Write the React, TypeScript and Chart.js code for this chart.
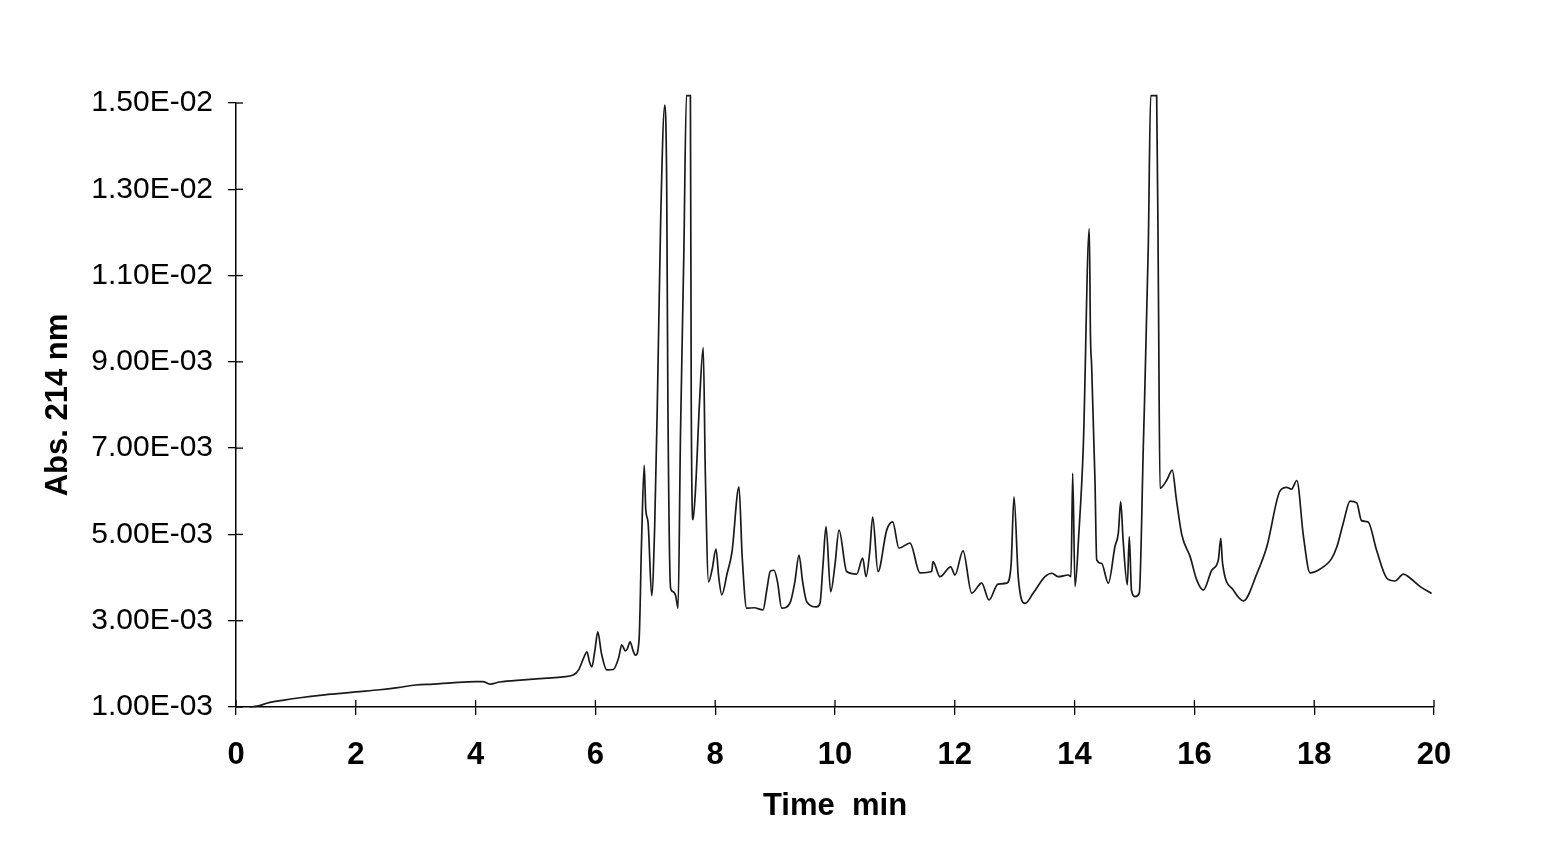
import React, { useEffect, useRef } from "react";
import { Chart, registerables } from "chart.js";

Chart.register(...registerables);

// Retention time (min)
const times: number[] = [
  0.23, 0.35, 0.55, 0.8, 1.1, 1.4, 1.7, 2.0, 2.4, 2.7, 3.0, 3.3, 3.6, 4.0, 4.12, 4.24, 4.4, 4.8, 5.2, 5.46,
  5.63, 5.72, 5.79, 5.86, 5.9, 5.94, 5.99, 6.04, 6.1, 6.19, 6.3, 6.39, 6.44, 6.5, 6.53, 6.58, 6.63, 6.67, 6.73, 6.77,
  6.815, 6.84, 6.88, 6.94, 6.99, 7.035, 7.09, 7.157, 7.19, 7.21, 7.256, 7.3, 7.34, 7.38, 7.42, 7.476, 7.52, 7.586, 7.6, 7.63,
  7.67, 7.74, 7.8, 7.835, 7.89, 7.95, 8.013, 8.06, 8.11, 8.2, 8.28, 8.397, 8.45, 8.526, 8.65, 8.798, 8.86, 8.92, 8.982, 9.04,
  9.11, 9.249, 9.33, 9.399, 9.46, 9.528, 9.694, 9.75, 9.8, 9.85, 9.928, 10.0, 10.067, 10.195, 10.362, 10.462, 10.518, 10.58, 10.629, 10.718,
  10.863, 10.963, 11.068, 11.252, 11.419, 11.614, 11.636, 11.753, 11.932, 12.003, 12.137, 12.282, 12.449, 12.571, 12.721, 12.866, 12.94, 12.988, 13.06, 13.172,
  13.31, 13.506, 13.62, 13.73, 13.895, 13.94, 13.968, 14.007, 14.07, 14.145, 14.245, 14.265, 14.285, 14.34, 14.369, 14.45, 14.563, 14.674, 14.73, 14.77,
  14.81, 14.88, 14.913, 14.95, 15.008, 15.08, 15.147, 15.23, 15.27, 15.37, 15.4, 15.426, 15.54, 15.63, 15.7, 15.79, 15.93, 16.04, 16.15, 16.29,
  16.4, 16.44, 16.47, 16.65, 16.82, 17.04, 17.21, 17.43, 17.54, 17.62, 17.71, 17.82, 17.93, 18.1, 18.29, 18.38, 18.49, 18.6, 18.71, 18.79,
  18.9, 19.04, 19.21, 19.35, 19.49, 19.6, 19.77, 19.96,
];

// Absorbance at 214 nm
const absorbance: number[] = [
  1.0e-3, 1.02e-3, 1.1e-3, 1.16e-3, 1.22e-3, 1.27e-3, 1.31e-3, 1.35e-3, 1.4e-3, 1.45e-3, 1.51e-3, 1.53e-3, 1.56e-3, 1.59e-3, 1.59e-3, 1.53e-3, 1.58e-3, 1.63e-3, 1.67e-3, 1.7e-3,
  1.74e-3, 1.86e-3, 2.09e-3, 2.28e-3, 2.05e-3, 1.93e-3, 2.3e-3, 2.74e-3, 2.25e-3, 1.86e-3, 1.87e-3, 2.15e-3, 2.44e-3, 2.3e-3, 2.34e-3, 2.51e-3, 2.3e-3, 2.2e-3, 2.58e-3, 4.8e-3,
  6.6e-3, 5.6e-3, 5.26e-3, 3.58e-3, 5.2e-3, 8.11e-3, 12.31e-3, 14.95e-3, 13.15e-3, 8.11e-3, 3.75e-3, 3.67e-3, 3.58e-3, 3.29e-3, 7.28e-3, 11.48e-3, 15.17e-3, 15.17e-3, 8.11e-3, 5.34e-3,
  6.01e-3, 8.11e-3, 9.33e-3, 6.43e-3, 3.9e-3, 4.2e-3, 4.66e-3, 4.0e-3, 3.6e-3, 4.1e-3, 4.59e-3, 6.1e-3, 4.5e-3, 3.29e-3, 3.3e-3, 3.25e-3, 3.7e-3, 4.15e-3, 4.17e-3, 3.9e-3,
  3.29e-3, 3.41e-3, 3.9e-3, 4.52e-3, 3.9e-3, 3.44e-3, 3.32e-3, 3.41e-3, 4.3e-3, 5.18e-3, 3.67e-3, 4.3e-3, 5.1e-3, 4.14e-3, 4.08e-3, 4.45e-3, 4.02e-3, 4.6e-3, 5.4e-3, 4.14e-3,
  5.1e-3, 5.29e-3, 4.68e-3, 4.8e-3, 4.11e-3, 4.14e-3, 4.37e-3, 4.02e-3, 4.25e-3, 4.06e-3, 4.62e-3, 3.64e-3, 3.87e-3, 3.48e-3, 3.85e-3, 3.87e-3, 4.3e-3, 5.87e-3, 4.0e-3, 3.4e-3,
  3.64e-3, 4.02e-3, 4.1e-3, 4.02e-3, 4.06e-3, 4.02e-3, 6.42e-3, 3.79e-3, 5.0e-3, 7.03e-3, 12.09e-3, 9.6e-3, 8.89e-3, 6.26e-3, 4.41e-3, 4.33e-3, 3.87e-3, 4.72e-3, 5.03e-3, 5.76e-3,
  4.87e-3, 3.83e-3, 4.95e-3, 3.7e-3, 3.56e-3, 3.64e-3, 7.03e-3, 11.67e-3, 15.17e-3, 15.17e-3, 10.5e-3, 6.07e-3, 6.26e-3, 6.49e-3, 5.8e-3, 4.99e-3, 4.48e-3, 3.94e-3, 3.71e-3, 4.17e-3,
  4.41e-3, 4.91e-3, 4.33e-3, 3.71e-3, 3.46e-3, 4.08e-3, 4.72e-3, 6.01e-3, 6.09e-3, 6.05e-3, 6.25e-3, 4.96e-3, 4.11e-3, 4.2e-3, 4.44e-3, 4.72e-3, 5.29e-3, 5.77e-3, 5.73e-3, 5.32e-3,
  5.29e-3, 4.64e-3, 3.99e-3, 3.92e-3, 4.08e-3, 3.99e-3, 3.79e-3, 3.63e-3,
];

const yTickLabels: string[] = ["1.00E-03", "3.00E-03", "5.00E-03", "7.00E-03", "9.00E-03", "1.10E-02", "1.30E-02", "1.50E-02"];
const xTickLabels: string[] = ["0", "2", "4", "6", "8", "10", "12", "14", "16", "18", "20"];
const yTitle = "Abs. 214 nm";
const xTitle = "Time  min";

const FONT = "'Liberation Sans', Arial, Helvetica, sans-serif";

const innerTicks = {
  id: "innerTicks",
  afterDraw(chart: any) {
    const { ctx, chartArea, scales } = chart;
    ctx.save();
    ctx.strokeStyle = "#000";
    ctx.lineWidth = 1.3;
    const xs = scales.x;
    xs.ticks.forEach((t: any) => {
      const px = xs.getPixelForValue(t.value);
      ctx.beginPath();
      ctx.moveTo(px, chartArea.bottom);
      ctx.lineTo(px, chartArea.bottom - 7);
      ctx.stroke();
    });
    const ys = scales.y;
    ys.ticks.forEach((t: any) => {
      const py = ys.getPixelForValue(t.value);
      ctx.beginPath();
      ctx.moveTo(chartArea.left, py);
      ctx.lineTo(chartArea.left + 7, py);
      ctx.stroke();
    });
    ctx.restore();
  },
};

export default function App() {
  const ref = useRef<HTMLCanvasElement | null>(null);

  useEffect(() => {
    if (!ref.current) return;
    const data = times.map((t, i) => ({ x: t, y: absorbance[i] }));
    const chart = new Chart(ref.current, {
      type: "line",
      data: {
        datasets: [
          {
            data,
            borderColor: "#1a1a1a",
            borderWidth: 1.7,
            pointRadius: 0,
            fill: false,
            cubicInterpolationMode: "monotone",
            clip: false,
          },
        ],
      },
      options: {
        animation: false,
        responsive: false,
        layout: { padding: { top: 103, right: 112, left: 0, bottom: 0 } },
        plugins: { legend: { display: false }, tooltip: { enabled: false } },
        scales: {
          x: {
            type: "linear",
            min: 0,
            max: 20,
            afterFit: (s: any) => {
              s.height = 137;
            },
            ticks: {
              stepSize: 2,
              padding: 22,
              color: "#000",
              font: { family: FONT, size: 31, weight: "bold" },
              callback: (_v: any, i: number) => xTickLabels[i],
              maxRotation: 0,
            },
            grid: { drawOnChartArea: false, drawTicks: true, tickLength: 8, color: "#000", lineWidth: 1.3 },
            border: { display: true, color: "#000", width: 1.5 },
            title: {
              display: true,
              text: xTitle,
              color: "#000",
              font: { family: FONT, size: 31, weight: "bold" },
              padding: { top: 0, bottom: 19 },
            },
          },
          y: {
            type: "linear",
            min: 0.001,
            max: 0.015,
            afterFit: (s: any) => {
              s.width = 236;
            },
            ticks: {
              stepSize: 0.002,
              padding: 15,
              color: "#000",
              font: { family: FONT, size: 30 },
              callback: (_v: any, i: number) => yTickLabels[i],
            },
            grid: { drawOnChartArea: false, drawTicks: true, tickLength: 8, color: "#000", lineWidth: 1.3 },
            border: { display: true, color: "#000", width: 1.5 },
            title: {
              display: true,
              text: yTitle,
              color: "#000",
              font: { family: FONT, size: 31, weight: "bold" },
              padding: { top: 40, bottom: 0 },
            },
          },
        },
      },
      plugins: [innerTicks],
    } as any);
    return () => chart.destroy();
  }, []);

  return (
    <div style={{ position: "absolute", left: 0, top: 0, width: 1546, height: 844, background: "#fff" }}>
      <canvas ref={ref} width={1546} height={844} style={{ width: 1546, height: 844, display: "block" }} />
    </div>
  );
}
